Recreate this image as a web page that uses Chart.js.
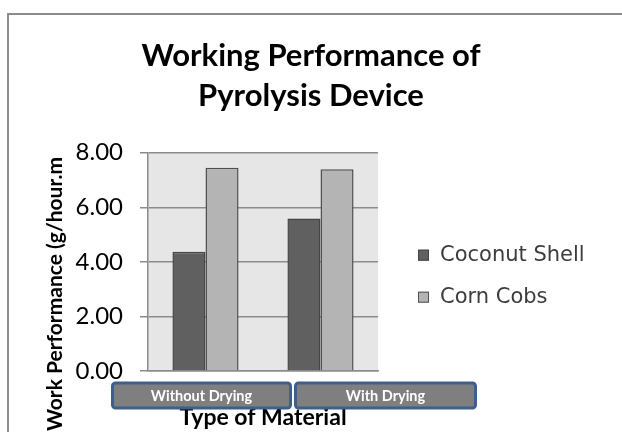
<!DOCTYPE html>
<html>
<head>
<meta charset="utf-8">
<title>Working Performance of Pyrolysis Device</title>
<script src="https://cdn.jsdelivr.net/npm/chart.js@4.4.0/dist/chart.umd.min.js"></script>
<style>
  html, body { margin: 0; padding: 0; background: #fff; }
</style>
</head>
<body>
<canvas id="grafico" width="622" height="432"></canvas>
<script>
// datos
const categorias = ["Without Drying", "With Drying"]
const coconutShell = [4.37, 5.59]
const cornCobs = [7.45, 7.39]
const yTicks = [0, 2, 4, 6, 8]
const titulo = ["Working Performance of", "Pyrolysis Device"]
const tituloY = "Work Performance (g/hour.m"
const tituloX = "Type of Material"

const gris = "#8c8c8c"

// fondo, borde exterior, leyenda, titulo Y y cajas de categorias
const decoracion = {
    id: "decoracion",
    beforeDraw(chart) {
        const ctx = chart.ctx
        const a = chart.chartArea
        ctx.save()
        ctx.strokeStyle = gris
        ctx.lineWidth = 2
        ctx.strokeRect(8, 14, 700, 500)
        ctx.fillStyle = "#e6e6e6"
        ctx.fillRect(a.left, a.top, a.right - a.left, a.bottom - a.top)
        ctx.restore()
    },
    afterDraw(chart) {
        const ctx = chart.ctx
        const a = chart.chartArea
        ctx.save()

        // leyenda
        chart.data.datasets.forEach((ds, i) => {
            let y = a.top + 97 + i * 42
            ctx.fillStyle = ds.backgroundColor
            ctx.fillRect(a.right + 40, y, 11, 11)
            ctx.strokeStyle = ds.borderColor
            ctx.lineWidth = 1
            ctx.strokeRect(a.right + 40.5, y + 0.5, 10, 10)
            ctx.fillStyle = "#3c3c3c"
            ctx.font = '21px "DejaVu Sans"'
            ctx.textAlign = "left"
            ctx.textBaseline = "alphabetic"
            ctx.fillText(ds.label, a.right + 62, y + 11)
        })

        // titulo del eje Y
        ctx.save()
        ctx.translate(55.5, a.bottom - 77)
        ctx.rotate(-Math.PI / 2)
        ctx.fillStyle = "#000"
        ctx.font = 'bold 21px Lato'
        ctx.textAlign = "center"
        ctx.textBaseline = "middle"
        ctx.fillText(tituloY, 0, 0)
        ctx.restore()

        // cajas de las categorias
        const cajas = [[a.left - 35.5, a.left + 142.5], [a.left + 147.5, a.left + 327.5]]
        chart.data.labels.forEach((lab, i) => {
            let x0 = cajas[i][0], x1 = cajas[i][1]
            let y0 = a.bottom + 12, y1 = a.bottom + 37
            ctx.beginPath()
            ctx.roundRect(x0, y0, x1 - x0, y1 - y0, 3)
            ctx.fillStyle = "#7f7f7f"
            ctx.fill()
            ctx.lineWidth = 3
            ctx.strokeStyle = "#3e5f8c"
            ctx.stroke()
            ctx.fillStyle = "#fff"
            ctx.font = 'bold 14.5px Lato'
            ctx.textAlign = "center"
            ctx.textBaseline = "middle"
            ctx.fillText(lab, (x0 + x1) / 2, (y0 + y1) / 2 + 0.5)
        })
        ctx.restore()
    }
}

const ctx = document.getElementById("grafico").getContext("2d")
const chart = new Chart(ctx, {
    type: "bar",
    data: {
        labels: categorias,
        datasets: [{
            label: "Coconut Shell",
            data: coconutShell,
            backgroundColor: "#606060",
            borderColor: "#454545",
            borderWidth: 1.5
        }, {
            label: "Corn Cobs",
            data: cornCobs,
            backgroundColor: "#b4b4b4",
            borderColor: "#505050",
            borderWidth: 1.5
        }]
    },
    options: {
        responsive: false,
        animation: false,
        categoryPercentage: 0.575,
        barPercentage: 1,
        layout: { padding: { left: 0, right: 0, top: 0, bottom: 1 } },
        plugins: {
            legend: { display: false },
            tooltip: { enabled: false },
            title: {
                display: true,
                text: titulo,
                color: "#000",
                font: { family: "Lato", size: 31, weight: "bold", lineHeight: 1.29 },
                padding: { top: 36, bottom: 36.7 }
            }
        },
        scales: {
            x: {
                grid: { display: false },
                border: { display: true, color: gris, width: 1.5 },
                ticks: { display: false },
                title: {
                    display: true,
                    text: tituloX,
                    color: "#000",
                    font: { family: "Lato", size: 23, weight: "bold" },
                    padding: 0
                },
                afterFit(s) { s.height = 60 }
            },
            y: {
                min: 0,
                max: 8,
                afterBuildTicks(s) { s.ticks = yTicks.map(v => ({ value: v })) },
                grid: { color: gris, lineWidth: 1.5, tickLength: 8 },
                border: { display: true, color: gris, width: 1.5 },
                ticks: {
                    color: "#000",
                    padding: 17,
                    font: { family: "Lato", size: 24 },
                    callback: v => v.toFixed(2)
                },
                afterFit(s) { s.width = 148 }
            },
            hueco: {
                type: "linear",
                position: "right",
                grid: { display: false },
                border: { display: false },
                ticks: { display: false },
                afterFit(s) { s.width = 244 }
            }
        }
    },
    plugins: [decoracion]
})
</script>
</body>
</html>
